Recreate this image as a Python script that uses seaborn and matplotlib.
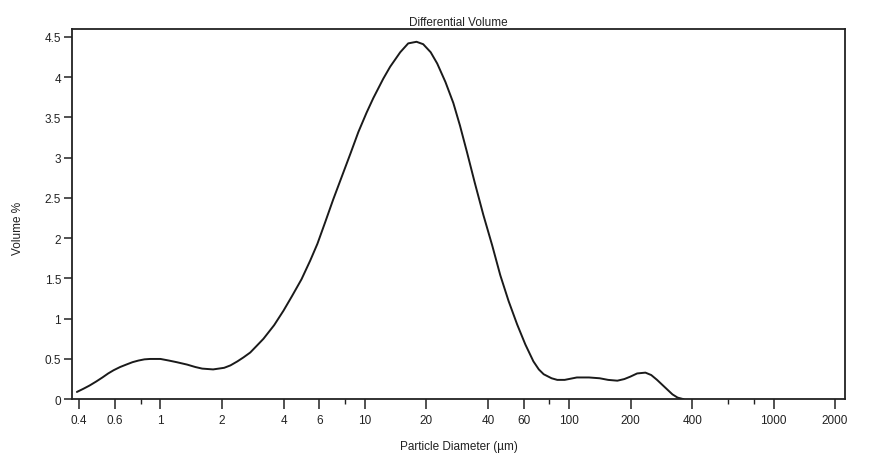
import matplotlib
matplotlib.use("Agg")
import matplotlib.pyplot as plt
import matplotlib.ticker as mticker
import seaborn as sns
import pandas as pd

# Data
diameter_um = [0.39, 0.42, 0.45, 0.485, 0.52, 0.555, 0.59, 0.635, 0.68, 0.73, 0.78,
               0.835, 0.89, 0.95, 1.0, 1.1, 1.2, 1.35, 1.48, 1.6, 1.81, 2.05, 2.2,
               2.38, 2.55, 2.75, 2.95, 3.19, 3.6, 4.0, 4.4, 4.9, 5.4, 5.86, 6.4, 7.0,
               7.7, 8.5, 9.3, 10.2, 11.0, 12.3, 13.3, 14.9, 16.3, 17.9, 19.3, 21.0,
               22.6, 24.8, 27.1, 29.2, 31.6, 34.5, 38, 42, 46, 50.5, 55.6, 61, 66.8,
               71, 75, 82, 87.4, 95, 109, 125, 141, 155, 172, 186, 199, 215, 236,
               252, 269, 285, 302, 320, 339, 363]
volume_pct = [0.09, 0.13, 0.17, 0.22, 0.27, 0.32, 0.36, 0.40, 0.43, 0.46, 0.48,
              0.495, 0.50, 0.50, 0.50, 0.48, 0.46, 0.43, 0.40, 0.38, 0.37, 0.39, 0.42,
              0.47, 0.52, 0.58, 0.66, 0.75, 0.92, 1.10, 1.28, 1.49, 1.72, 1.93, 2.20, 2.48,
              2.76, 3.05, 3.32, 3.56, 3.74, 3.98, 4.13, 4.31, 4.42, 4.44, 4.41, 4.31,
              4.17, 3.94, 3.68, 3.40, 3.07, 2.69, 2.29, 1.91, 1.54, 1.22, 0.93, 0.68, 0.47,
              0.37, 0.31, 0.26, 0.24, 0.24, 0.27, 0.27, 0.26, 0.24, 0.23, 0.25, 0.28, 0.32, 0.33,
              0.30, 0.24, 0.18, 0.12, 0.06, 0.02, 0.0]

x_ticks = [0.4, 0.6, 1, 2, 4, 6, 10, 20, 40, 60, 100, 200, 400, 1000, 2000]
x_tick_labels = ["0.4", "0.6", "1", "2", "4", "6", "10", "20", "40", "60",
                 "100", "200", "400", "1000", "2000"]
x_minor_ticks = [0.8, 8, 80, 600, 800]
y_ticks = [0, 0.5, 1, 1.5, 2, 2.5, 3, 3.5, 4, 4.5]
y_tick_labels = ["0", "0.5", "1", "1.5", "2", "2.5", "3", "3.5", "4", "4.5"]

title = "Differential Volume"
x_label = "Particle Diameter (µm)"
y_label = "Volume %"

sns.set_style("ticks")
plt.rcParams["font.family"] = ["Liberation Sans", "DejaVu Sans"]

df = pd.DataFrame({"d": diameter_um, "v": volume_pct})

fig = plt.figure(figsize=(8.7, 4.6), dpi=100)
ax = fig.add_axes([0.083, 0.13, 0.888, 0.805])

sns.lineplot(data=df, x="d", y="v", ax=ax, color="#1a1a1a", linewidth=1.4)

ax.set_xscale("log")
ax.set_xlim(0.37, 2230)
ax.set_ylim(0, 4.6)

ax.xaxis.set_major_locator(mticker.FixedLocator(x_ticks))
ax.xaxis.set_major_formatter(mticker.FixedFormatter(x_tick_labels))
ax.xaxis.set_minor_locator(mticker.FixedLocator(x_minor_ticks))
ax.xaxis.set_minor_formatter(mticker.NullFormatter())
ax.set_yticks(y_ticks)
ax.set_yticklabels(y_tick_labels)

ax.tick_params(axis="x", which="major", direction="out", length=7, width=1.1,
               color="#222222", labelsize=8.5, labelcolor="#222222", pad=4)
ax.tick_params(axis="y", which="major", direction="out", length=6, width=1.1,
               color="#222222", labelsize=8.5, labelcolor="#222222", pad=2)
ax.tick_params(axis="x", which="minor", direction="out", length=3.5, width=1.0,
               color="#222222")

for side in ["left", "right", "top", "bottom"]:
    ax.spines[side].set_visible(True)
    ax.spines[side].set_linewidth(1.3)
    ax.spines[side].set_color("#222222")

ax.set_title(title, fontsize=8.5, color="#222222", pad=3)
ax.set_xlabel(x_label, fontsize=8.5, color="#222222", labelpad=10)
ax.set_ylabel(y_label, fontsize=8.5, color="#222222")
ax.yaxis.set_label_coords(-0.062, 0.465)

fig.savefig("out.png", dpi=100)
